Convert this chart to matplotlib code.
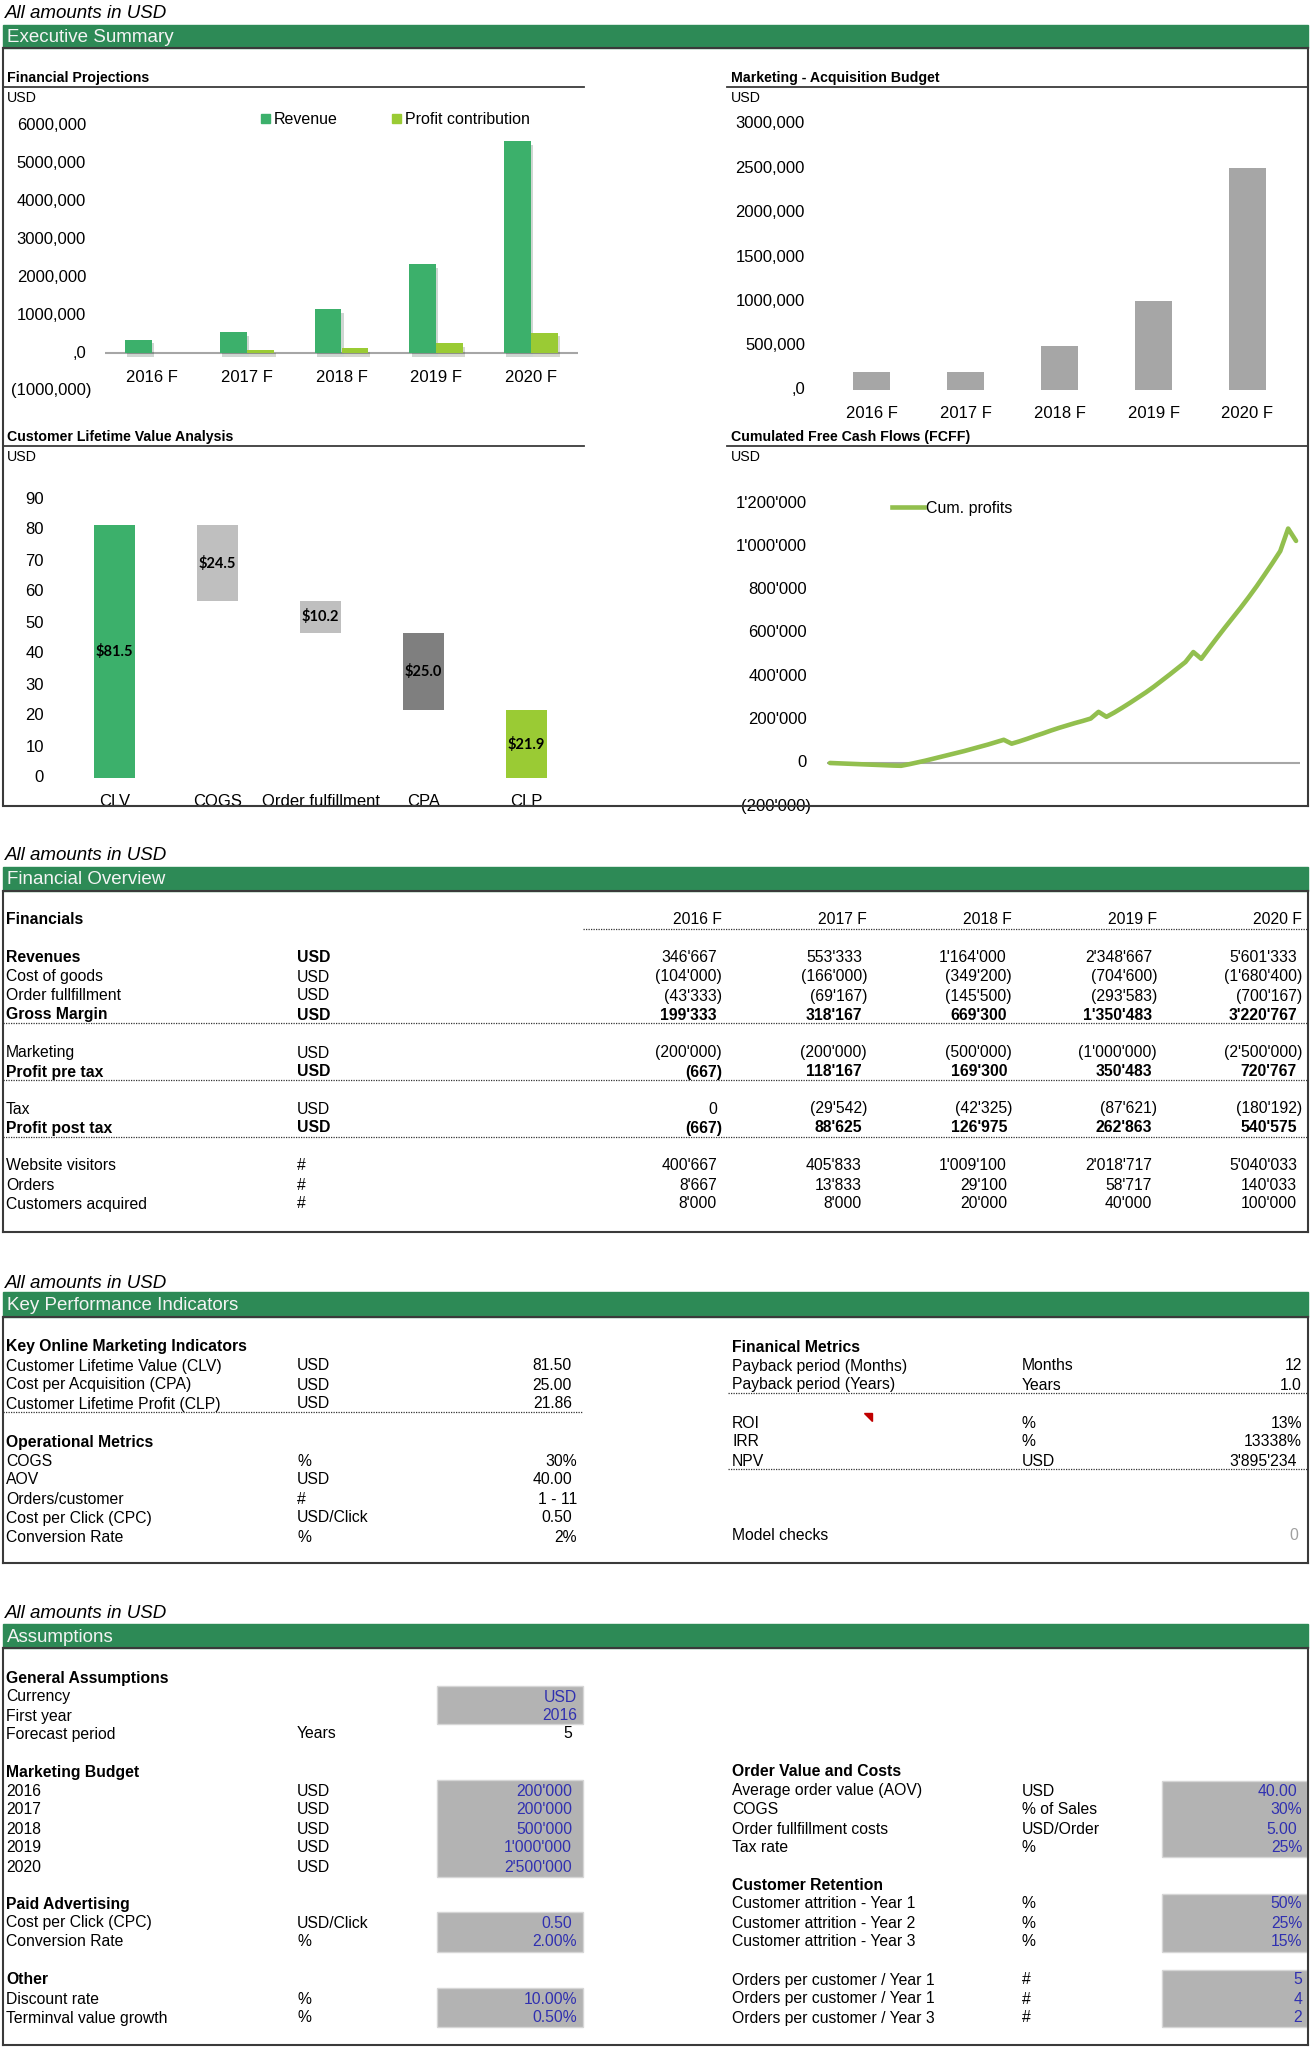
import numpy as np
import matplotlib
matplotlib.use("Agg")
import matplotlib.pyplot as plt
from matplotlib import transforms, patheffects
from matplotlib.lines import Line2D
from matplotlib.patches import Patch, Polygon, Rectangle

plt.rcParams["font.family"] = ["Liberation Sans", "DejaVu Sans"]

W, H = 1310, 2048

# ---------------- datos ----------------
years = ["2016 F", "2017 F", "2018 F", "2019 F", "2020 F"]
revenues = [346667, 553333, 1164000, 2348667, 5601333]
cost_of_goods = [-104000, -166000, -349200, -704600, -1680400]
order_fulfillment = [-43333, -69167, -145500, -293583, -700167]
gross_margin = [199333, 318167, 669300, 1350483, 3220767]
marketing = [-200000, -200000, -500000, -1000000, -2500000]
profit_pre_tax = [-667, 118167, 169300, 350483, 720767]
tax = [0, -29542, -42325, -87621, -180192]
profit_post_tax = [-667, 88625, 126975, 262863, 540575]
website_visitors = [400667, 405833, 1009100, 2018717, 5040033]
orders = [8667, 13833, 29100, 58717, 140033]
customers_acquired = [8000, 8000, 20000, 40000, 100000]

clv_steps = ["CLV", "COGS", "Order fulfillment", "CPA", "CLP"]
clv_values = [81.5, 24.46, 10.18, 25.0, 21.86]

# flujo acumulado mensual (miles USD), 60 meses
cum_profits_k = [0, -1.5, -3, -4.5, -6, -7.5, -9, -10.5, -12, -13,
                 -6, 2, 10, 19, 28, 37, 46, 55, 65, 75,
                 85, 96, 107, 89, 100, 112, 125, 137, 150, 162,
                 173, 184, 194, 205, 236, 213, 233, 255, 278, 302,
                 326, 352, 380, 408, 437, 466, 512, 481, 530, 578,
                 625, 671, 717, 765, 815, 868, 922, 978, 1082, 1025]

kpi_labels = ["Customer Lifetime Value (CLV)", "Cost per Acquisition (CPA)",
              "Customer Lifetime Profit (CLP)"]
kpi_units = ["USD", "USD", "USD"]
kpi_values = ["81.50", "25.00", "21.86"]
ops_labels = ["COGS", "AOV", "Orders/customer", "Cost per Click (CPC)", "Conversion Rate"]
ops_units = ["%", "USD", "#", "USD/Click", "%"]
ops_values = ["30%", "40.00", "1 - 11", "0.50", "2%"]
payback_labels = ["Payback period (Months)", "Payback period (Years)"]
payback_units = ["Months", "Years"]
payback_values = ["12", "1.0"]
return_labels = ["ROI", "IRR", "NPV"]
return_units = ["%", "%", "USD"]
return_values = ["13%", "13338%", "3'895'234"]

general_labels = ["Currency", "First year", "Forecast period"]
general_units = ["", "", "Years"]
general_values = ["USD", "2016", "5"]
budget_labels = ["2016", "2017", "2018", "2019", "2020"]
paid_labels = ["Cost per Click (CPC)", "Conversion Rate"]
paid_units = ["USD/Click", "%"]
paid_values = ["0.50", "2.00%"]
other_labels = ["Discount rate", "Terminval value growth"]
other_units = ["%", "%"]
other_values = ["10.00%", "0.50%"]
order_labels = ["Average order value (AOV)", "COGS", "Order fullfillment costs", "Tax rate"]
order_units = ["USD", "% of Sales", "USD/Order", "%"]
order_values = ["40.00", "30%", "5.00", "25%"]
retention_labels = ["Customer attrition - Year 1", "Customer attrition - Year 2",
                    "Customer attrition - Year 3"]
retention_values = ["50%", "25%", "15%"]
opc_labels = ["Orders per customer / Year 1", "Orders per customer / Year 1",
              "Orders per customer / Year 3"]
opc_values = ["5", "4", "2"]

GREEN = "#2d8a56"
REV = "#3cb06b"
PROFIT = "#9acb34"
BLUE = "#3030b0"
BOX = "#3a3a3a"
FS = 11.3      # texto de tablas
TICK = 12      # etiquetas de ejes


def fmt(v):
    s = f"{abs(v):,.0f}".replace(",", "'")
    return f"({s})" if v < 0 else s


def fmt_comma(v):
    if v == 0:
        return ",0"
    s = f"{int(abs(v)) // 1000},{int(abs(v)) % 1000:03d}"
    return f"({s})" if v < 0 else s


def shift(s):
    # los numeros con formato llevan un espacio final en Excel
    return 5 if ("'" in s or (len(s) > 3 and s[-3] == ".")) else 0


fig = plt.figure(figsize=(W / 100, H / 100), dpi=100)
bg = fig.add_axes([0, 0, 1, 1])
bg.set_xlim(0, W)
bg.set_ylim(H, 0)
bg.axis("off")
top = fig.add_axes([0, 0, 1, 1])
top.set_xlim(0, W)
top.set_ylim(H, 0)
top.axis("off")
top.set_zorder(5)


def t(x, y, s, ha="left", bold=False, color="black", size=FS, **kw):
    bg.text(x, y + 1, s, ha=ha, va="center", fontsize=size,
            fontweight="bold" if bold else "normal", color=color, **kw)


def dotted(x0, x1, y):
    bg.plot([x0, x1], [y, y], color="#333333", lw=0.9, ls=(0, (1, 1)))


def section(y_note, bar_top, bar_bot, title, box_bot, draw_bottom=True):
    t(5, y_note, "All amounts in USD", size=13.5, style="italic")
    bg.add_patch(Rectangle((3, bar_top), 1305, bar_bot - bar_top, color=GREEN))
    t(7, (bar_top + bar_bot) / 2, title, color="#f4f4f4", size=13.5)
    bg.plot([2.5, 1307.5], [bar_bot, bar_bot], color=BOX, lw=1.5)
    bg.plot([2.5, 2.5], [bar_bot, box_bot], color=BOX, lw=1.5)
    bg.plot([1307.5, 1307.5], [bar_bot, box_bot], color=BOX, lw=1.5)
    if draw_bottom:
        bg.plot([2.5, 1307.5], [box_bot, box_bot], color=BOX, lw=1.5)


def chart_ax(x0, x1, y0, y1):
    ax = fig.add_axes([x0 / W, 1 - y1 / H, (x1 - x0) / W, (y1 - y0) / H])
    ax.set_zorder(2)
    ax.patch.set_alpha(0)
    for s in ax.spines.values():
        s.set_visible(False)
    ax.tick_params(left=False, bottom=False, labelleft=False, labelbottom=False)
    return ax


def ylabels(ax, ticks, fmtf, xr, xr_neg):
    tr = transforms.blended_transform_factory(bg.transData, ax.transData)
    for v in ticks:
        ax.text(xr_neg if v < 0 else xr, v, fmtf(v), transform=tr,
                ha="right", va="center", fontsize=TICK)


def xlabels(ax, labels, y):
    tr = transforms.blended_transform_factory(ax.transData, bg.transData)
    for i, lab in enumerate(labels):
        ax.text(i, y, lab, transform=tr, ha="center", va="center", fontsize=TICK)


def chart_title(x0, x1, y, title):
    t(x0 + 4, y - 10, title, bold=True, size=10.2)
    bg.plot([x0, x1], [y, y], color=BOX, lw=1.3)
    t(x0 + 4, y + 10, "USD", size=10.2)


# ================= Executive Summary =================
section(13, 25, 48, "Executive Summary", 806, draw_bottom=False)
# el grafico CLV queda recortado por el borde inferior del recuadro
top.add_patch(Rectangle((0, 806), 660, 26, color="white"))
top.plot([2.5, 1307.5], [806, 806], color=BOX, lw=1.5)

chart_title(3, 584, 87, "Financial Projections")
chart_title(727, 1308, 87, "Marketing - Acquisition Budget")
chart_title(3, 584, 446, "Customer Lifetime Value Analysis")
chart_title(727, 1308, 446, "Cumulated Free Cash Flows (FCFF)")

x = np.arange(len(years))
shadow = [patheffects.SimplePatchShadow(offset=(1.5, -2.5), alpha=0.2), patheffects.Normal()]

# Financial Projections
ax1 = chart_ax(104.6, 578.4, 126, 391)
ax1.set_xlim(-0.5, 4.5)
ax1.set_ylim(-1000000, 6000000)
ax1.axhline(0, color="#a6a6a6", lw=1.5, zorder=1)
b1 = ax1.bar(x - 0.1415, revenues, 0.283, color=REV, zorder=2)
b2 = ax1.bar(x + 0.1415, profit_post_tax, 0.283, color=PROFIT, zorder=2)
for bar in list(b1) + list(b2):
    bar.set_path_effects(shadow)
ylabels(ax1, np.arange(-1000000, 6000001, 1000000), fmt_comma, 86, 91)
xlabels(ax1, years, 377)
ax1.legend([Patch(color=REV), Patch(color=PROFIT)], ["Revenue", "Profit contribution"],
           ncol=2, frameon=False, fontsize=11.5, loc="upper left",
           bbox_to_anchor=(261 / W, 1 - 112 / H), bbox_transform=fig.transFigure,
           handlelength=0.55, handleheight=0.55, handletextpad=0.25,
           columnspacing=3.4, borderpad=0, borderaxespad=0)

# Marketing - Acquisition Budget
ax2 = chart_ax(824.5, 1294.5, 124, 390)
ax2.set_xlim(-0.5, 4.5)
ax2.set_ylim(0, 3000000)
ax2.bar(x, [-m for m in marketing], 0.39, color="#a6a6a6")
ylabels(ax2, np.arange(0, 3000001, 500000), fmt_comma, 805, 805)
xlabels(ax2, years, 414)

# Customer Lifetime Value Analysis (cascada)
level = clv_values[0]
bottoms = [0]
for v in clv_values[1:4]:
    level -= v
    bottoms.append(level)
bottoms.append(0)
clv_colors = [REV, "#bfbfbf", "#bfbfbf", "#7f7f7f", PROFIT]
ax3 = chart_ax(63, 578, 499, 778)
ax3.set_xlim(-0.5, 4.5)
ax3.set_ylim(0, 90)
ax3.bar(x, clv_values, 0.4, bottom=bottoms, color=clv_colors)
for i, (v, b0) in enumerate(zip(clv_values, bottoms)):
    ax3.text(i, b0 + v / 2, f"${v:.1f}", ha="center", va="center",
             fontsize=10.5, fontweight="bold", family=["Lato", "DejaVu Sans"])
ylabels(ax3, np.arange(0, 91, 10), lambda v: f"{v:.0f}", 44, 44)
xlabels(ax3, clv_steps, 801)

# Cumulated Free Cash Flows
ax4 = chart_ax(826.8, 1300, 503, 806.3)
months = np.arange(len(cum_profits_k))
ax4.set_xlim(-0.4, 59.5)
ax4.set_ylim(-200000, 1200000)
ax4.axhline(0, color="#a6a6a6", lw=1.5, zorder=1)
ax4.plot(months, np.array(cum_profits_k) * 1000, color="#92bf4e", lw=3.3,
         solid_joinstyle="round", solid_capstyle="round", zorder=2)
ylabels(ax4, np.arange(-200000, 1200001, 200000), fmt, 807, 811)
ax4.legend([Line2D([], [], color="#92bf4e", lw=3.3)], ["Cum. profits"],
           frameon=False, fontsize=11.5, loc="upper left",
           bbox_to_anchor=(892 / W, 1 - 501 / H), bbox_transform=fig.transFigure,
           handlelength=2.0, handletextpad=0.15, borderpad=0, borderaxespad=0)

# ================= Financial Overview =================
section(855, 867, 891, "Financial Overview", 1232)
cols = [722, 867, 1012, 1157, 1302]
t(6, 919, "Financials", bold=True)
for cx, yr in zip(cols, years):
    t(cx, 919, yr, ha="right")
dotted(583, 1307, 929)

# (etiqueta, unidad, valores, etiqueta en negrita, valores en negrita, y)
fin_rows = [
    ("Revenues", "USD", revenues, True, False, 957),
    ("Cost of goods", "USD", cost_of_goods, False, False, 976),
    ("Order fullfillment", "USD", order_fulfillment, False, False, 995),
    ("Gross Margin", "USD", gross_margin, True, True, 1014),
    ("Marketing", "USD", marketing, False, False, 1052),
    ("Profit pre tax", "USD", profit_pre_tax, True, True, 1071),
    ("Tax", "USD", tax, False, False, 1108),
    ("Profit post tax", "USD", profit_post_tax, True, True, 1127),
    ("Website visitors", "#", website_visitors, False, False, 1165),
    ("Orders", "#", orders, False, False, 1184),
    ("Customers acquired", "#", customers_acquired, False, False, 1203),
]
for label, unit, vals, bold, vbold, y in fin_rows:
    t(6, y, label, bold=bold)
    t(297, y, unit, bold=bold)
    for cx, v in zip(cols, vals):
        t(cx - (0 if v < 0 else 5), y, fmt(v), ha="right", bold=vbold)
for y in (1023, 1080, 1137):
    dotted(3, 1307, y)

# ================= Key Performance Indicators =================
section(1282, 1292, 1317, "Key Performance Indicators", 1563)


def rows(x_lab, x_unit, x_val, ys, labels, units, values, color="black"):
    for y, lab, un, val in zip(ys, labels, units, values):
        t(x_lab, y, lab)
        t(x_unit, y, un)
        t(x_val - shift(val), y, val, ha="right", color=color)


t(6, 1346, "Key Online Marketing Indicators", bold=True)
rows(6, 297, 577, [1365, 1384, 1403], kpi_labels, kpi_units, kpi_values)
dotted(3, 583, 1412)
t(6, 1441, "Operational Metrics", bold=True)
rows(6, 297, 577, [1460, 1479, 1498, 1517, 1536], ops_labels, ops_units, ops_values)

t(732, 1346, "Finanical Metrics", bold=True)
rows(732, 1022, 1302, [1365, 1384], payback_labels, payback_units, payback_values)
dotted(728, 1307, 1393)
rows(732, 1022, 1302, [1422, 1441, 1460], return_labels, return_units, return_values)
dotted(728, 1307, 1469)
bg.add_patch(Polygon([(864, 1413), (872, 1413), (872, 1421)], color="#c00000"))
t(732, 1535, "Model checks")
t(1298, 1535, "0", ha="right", color="#a0a0a0")

# ================= Assumptions =================
section(1612, 1624, 1648, "Assumptions", 2045)


def input_box(x0, x1, y0, y1):
    bg.add_patch(Rectangle((x0, y0), x1 - x0, y1 - y0, facecolor="#b3b3b3",
                           edgecolor="#d6d6d6", lw=1))


input_box(436.5, 583, 1686, 1724)
input_box(436.5, 583, 1780, 1877)
input_box(436.5, 583, 1912, 1952)
input_box(436.5, 583, 1988, 2027)
input_box(1162, 1307, 1781, 1857)
input_box(1162, 1307, 1894, 1952)
input_box(1162, 1307, 1970, 2027)

t(6, 1677, "General Assumptions", bold=True)
for y, lab, un, val in zip([1696, 1715, 1733], general_labels, general_units, general_values):
    t(6, y, lab)
    t(297, y, un)
    t(577 - (5 if un else 0), y, val, ha="right", color="black" if un else BLUE)

t(6, 1771, "Marketing Budget", bold=True)
rows(6, 297, 577, [1790, 1809, 1828, 1847, 1866], budget_labels, ["USD"] * 5,
     [fmt(-m) for m in marketing], color=BLUE)
t(6, 1903, "Paid Advertising", bold=True)
rows(6, 297, 577, [1922, 1941], paid_labels, paid_units, paid_values, color=BLUE)
t(6, 1979, "Other", bold=True)
rows(6, 297, 577, [1998, 2017], other_labels, other_units, other_values, color=BLUE)

t(732, 1771, "Order Value and Costs", bold=True)
rows(732, 1022, 1302, [1790, 1809, 1828, 1847], order_labels, order_units, order_values, color=BLUE)
t(732, 1884, "Customer Retention", bold=True)
rows(732, 1022, 1302, [1903, 1922, 1941], retention_labels, ["%"] * 3, retention_values, color=BLUE)
rows(732, 1022, 1302, [1979, 1998, 2017], opc_labels, ["#"] * 3, opc_values, color=BLUE)

fig.savefig("out.png", dpi=100)
